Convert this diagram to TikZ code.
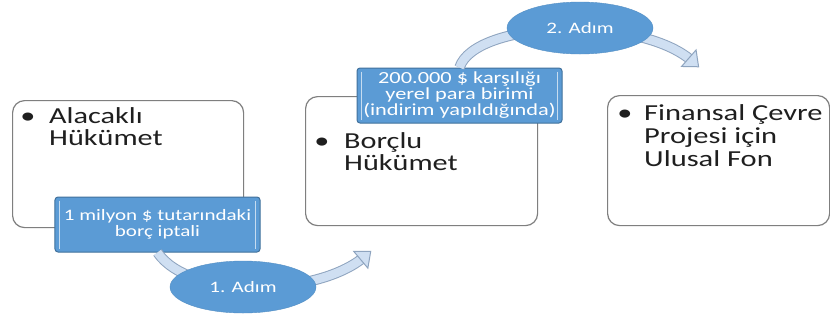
\documentclass[tikz,border=0pt]{standalone}
\usepackage{fontspec}
\setmainfont{Carlito}[FakeStretch=1.32]
\newfontfamily\widefont{Carlito}[FakeStretch=1.33]
\usetikzlibrary{shapes.geometric}
\usetikzlibrary{decorations.markings}

\definecolor{stepblue}{HTML}{5B9BD5}
\definecolor{stepedge}{HTML}{41719C}
\definecolor{panelgray}{HTML}{7F7F7F}
\definecolor{flowfill}{HTML}{CFDFF2}
\definecolor{flowedge}{HTML}{8EA4BF}
\definecolor{barlight}{HTML}{C6DCF0}

\begin{document}
\begin{tikzpicture}[x=1bp, y=-1bp,
    panel/.style={draw=panelgray, line width=1.2bp, rounded corners=12bp,
        fill=white, anchor=north west, inner sep=0pt},
    bigtext/.style={font=\fontsize{23}{22}\selectfont, text=black!88,
        inner sep=0pt, align=left},
    tag/.style={draw=stepedge, fill=stepblue, rounded corners=3bp, text=white,
        align=center, inner sep=0pt, line width=1bp,
        minimum width=205bp, minimum height=55bp},
    tagbar/.style={draw=barlight, line width=1.6bp},
    stepoval/.style={ellipse, fill=stepblue, draw=stepblue!92!black, text=white,
        minimum width=146bp, minimum height=52bp, inner sep=0pt,
        font=\fontsize{16}{16}\selectfont},
    flow/.style={draw=flowedge, line width=1bp, double=flowfill,
        double distance=8.5bp, postaction={decorate},
        decoration={markings, mark=at position 0.999 with {
            \filldraw[fill=flowfill, draw=flowedge, line width=1bp]
                (-4bp,-11bp) -- (9bp,0bp) -- (-4bp,11bp) -- cycle;}}}]

    % --- canvas ---
    \fill[white] (0,0) rectangle (830,320);
    \useasboundingbox (0,0) rectangle (830,320);

    % --- the three parties ---
    \node[panel, minimum width=231bp, minimum height=127bp] (creditor) at (12,100) {};
    \node[panel, minimum width=232bp, minimum height=129bp] (debtor) at (305,96) {};
    \node[panel, minimum width=222bp, minimum height=130bp] (fund) at (607,95) {};

    % text nodes sit on the baseline of their last line
    \node[bigtext, anchor=base] (credbul) at (28,123) {\textbullet};
    \node[bigtext, anchor=base west] (credtxt) at (49,145) {Alacaklı\\Hükümet};
    \node[bigtext, anchor=base] (debtbul) at (322,148) {\textbullet};
    \node[bigtext, anchor=base west] (debttxt) at (344,170) {Borçlu\\Hükümet};
    \node[bigtext, anchor=base] (fundbul) at (625,120) {\textbullet};
    \node[bigtext, font=\widefont\fontsize{23}{23}\selectfont, anchor=base west] (fundtxt)
        at (644,166) {Finansal Çevre\\Projesi için\\Ulusal Fon};

    % --- transfer labels ---
    \node[tag, font=\fontsize{16}{16}\selectfont] (lab1) at (157.5,224.5)
        {1 milyon \$ tutarındaki\\borç iptali};
    \node[tag, font=\fontsize{17}{16}\selectfont] (lab2) at (459.5,95.5)
        {200.000 \$ karşılığı\\yerel para birimi\\(indirim yapıldığında)};
    \foreach \lab in {lab1, lab2} {
        \draw[tagbar] ([xshift=5bp,yshift=-4bp]\lab.north west) -- ([xshift=5bp,yshift=4bp]\lab.south west);
        \draw[tagbar] ([xshift=-5bp,yshift=-4bp]\lab.north east) -- ([xshift=-5bp,yshift=4bp]\lab.south east);
    }

    % --- curved flow arrows ---
    \coordinate (tip1) at (364,257);
    \coordinate (tip2) at (692,61);
    \draw[flow] (lab1.south) .. controls (190,300) and (318,296) .. (tip1);
    \draw[flow] (lab2.north) .. controls (475,20) and (640,15) .. (tip2);

    % --- steps ---
    \node[stepoval] (step1) at (243,287) {1. Adım};
    \node[stepoval] (step2) at (580,28) {2. Adım};
\end{tikzpicture}
\end{document}
